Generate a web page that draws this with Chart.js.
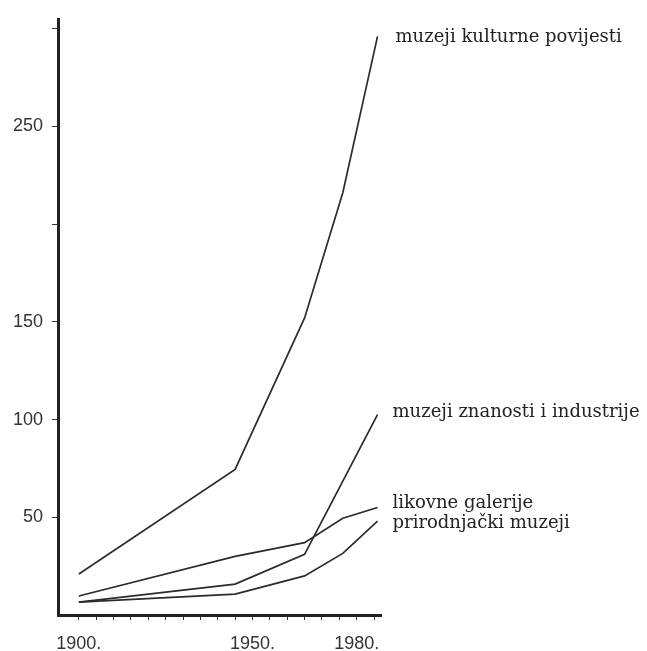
<!DOCTYPE html>
<html>
<head>
<meta charset="utf-8">
<script src="https://cdn.jsdelivr.net/npm/chart.js@4.4.1/dist/chart.umd.min.js"></script>
<style>
  html, body { margin: 0; padding: 0; background: #ffffff; }
  #wrap { width: 647px; height: 651px; }
</style>
</head>
<body>
<div id="wrap"><canvas id="c" width="647" height="651"></canvas></div>
<script>
// ---- data ----
const years = [1900, 1945, 1965, 1976, 1986];
const seriesNames = [
  'muzeji kulturne povijesti',
  'muzeji znanosti i industrije',
  'likovne galerije',
  'prirodnjački muzeji'
];
const kulturnePovijesti = [21, 74.5, 152, 216, 296];
const znanostiIndustrije = [6.6, 15.8, 31, null, 102.5];
const likovneGalerije = [9.7, 30, 37, 49.5, 55];
const prirodnjackiMuzeji = [6.6, 10.7, 20, 31.5, 48];
const yTickValues = [50, 100, 150, 200, 250, 300];
const yTickLabels = ['50', '100', '150', '', '250', ''];
const xTickValues = [1900,1905,1910,1915,1920,1925,1930,1935,1940,1945,1950,1955,1960,1965,1970,1975,1980,1985];
const xLabelled = { 1900: '1900.', 1950: '1950.', 1980: '1980.' };

const allSeries = [kulturnePovijesti, znanostiIndustrije, likovneGalerije, prirodnjackiMuzeji];
const toPoints = arr => years.map((yr, i) => ({ x: yr, y: arr[i] }));

// label placement (styles)
const labelOffsets = [[18, 1], [15, -2], [15, -4], [15, 2]];

const endLabels = {
  id: 'endLabels',
  afterDatasetsDraw(chart) {
    const ctx = chart.ctx;
    ctx.save();
    ctx.font = '18px "DejaVu Serif"';
    ctx.fillStyle = '#222';
    ctx.textBaseline = 'middle';
    ctx.textAlign = 'left';
    chart.data.datasets.forEach((ds, i) => {
      const meta = chart.getDatasetMeta(i);
      const last = meta.data[meta.data.length - 1];
      const off = labelOffsets[i];
      ctx.fillText(ds.label, last.x + off[0], last.y + off[1]);
    });
    ctx.restore();
  }
};

new Chart(document.getElementById('c'), {
  type: 'line',
  data: {
    datasets: allSeries.map((arr, i) => ({
      label: seriesNames[i],
      data: toPoints(arr),
      borderColor: '#2b2b2b',
      borderWidth: 1.7,
      pointRadius: 0,
      tension: 0,
      spanGaps: true,
      fill: false
    }))
  },
  options: {
    responsive: false,
    animation: false,
    layout: { padding: { top: 12, right: 266, left: 0, bottom: 0 } },
    plugins: { legend: { display: false }, tooltip: { enabled: false } },
    scales: {
      x: {
        type: 'linear',
        min: 1894,
        max: 1987,
        afterBuildTicks(scale) { scale.ticks = xTickValues.map(v => ({ value: v })); },
        afterFit(scale) { scale.height = 36; },
        border: { display: true, color: '#222', width: 3 },
        grid: { display: true, drawOnChartArea: false, drawTicks: true, tickLength: 5, color: '#333', lineWidth: 1 },
        ticks: {
          autoSkip: false,
          maxRotation: 0,
          padding: 13,
          color: '#333',
          font: { family: '"Liberation Sans", Arial, sans-serif', size: 18 },
          callback: v => xLabelled[v] || ''
        }
      },
      y: {
        type: 'linear',
        min: 0,
        max: 304.5,
        afterBuildTicks(scale) { scale.ticks = yTickValues.map(v => ({ value: v })); },
        afterFit(scale) { scale.width = 58; },
        border: { display: true, color: '#222', width: 3 },
        grid: { display: true, drawOnChartArea: false, drawTicks: true, tickLength: 6, color: '#333', lineWidth: 1 },
        ticks: {
          autoSkip: false,
          padding: 9,
          color: '#333',
          font: { family: '"Liberation Sans", Arial, sans-serif', size: 18 },
          callback: v => { const k = yTickValues.indexOf(v); return k >= 0 ? yTickLabels[k] : ''; }
        }
      }
    }
  },
  plugins: [endLabels]
});
</script>
</body>
</html>
